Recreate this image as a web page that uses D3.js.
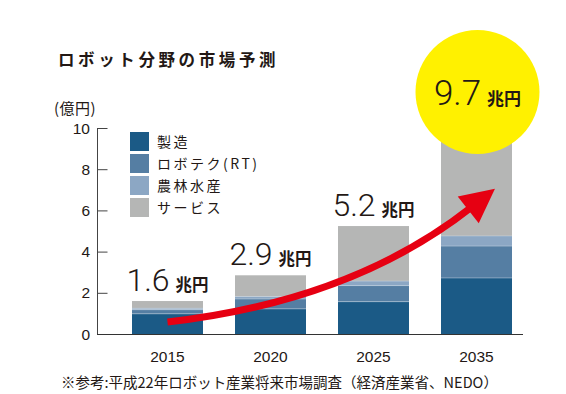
<!DOCTYPE html>
<html>
<head>
<meta charset="utf-8">
<script src="https://cdn.jsdelivr.net/npm/d3@7"></script>
<style>
  body { margin: 0; background: #fff; }
  text { font-family: "Liberation Sans", Arial, "Noto Sans CJK JP", sans-serif; fill: #231815; }
  .jp { font-family: "Noto Sans CJK JP", sans-serif; }
</style>
</head>
<body>
<div id="mainDiv"></div>
<script>
// data (unit: 兆円)
const years = ["2015", "2020", "2025", "2035"];
const seriesNames = ["製造", "ロボテク(RT)", "農林水産", "サービス"];
const seizo   = [0.98, 1.22, 1.57, 2.72];
const robotec = [0.20, 0.48, 0.78, 1.55];
const nourin  = [0.07, 0.12, 0.22, 0.49];
const service = [0.35, 1.03, 2.67, 4.94];
const totals  = ["1.6", "2.9", "5.2", "9.7"];
const yTicks  = [0, 2, 4, 6, 8, 10];
const colors  = ["#1b5a86", "#557ea3", "#8ca7c4", "#b5b6b5"];

const width = 566, height = 394;

let svg = d3.select("#mainDiv").append("svg")
            .attr("width", width)
            .attr("height", height);

// scales
let x = d3.scaleBand().domain(years).range([132, 512])
            .paddingInner(32 / 103).paddingOuter(0);
let y = d3.scaleLinear().domain([0, 10]).range([334, 128]);

// title
svg.append("text")
    .attr("class", "jp")
    .attr("x", 58).attr("y", 66)
    .style("font-size", "16.5px")
    .style("font-weight", 700)
    .style("letter-spacing", "3.6px")
    .text("ロボット分野の市場予測");

svg.append("text")
    .attr("class", "jp")
    .attr("x", 54).attr("y", 114)
    .style("font-size", "15px")
    .style("letter-spacing", "0.5px")
    .text("(億円)");

// stacked bars
let rows = years.map((yr, i) => ({year: yr, s0: seizo[i], s1: robotec[i], s2: nourin[i], s3: service[i]}));
let stack = d3.stack().keys(["s0", "s1", "s2", "s3"]);
let layers = stack(rows);

svg.append("g").selectAll("g")
    .data(layers)
  .enter().append("g")
    .attr("fill", (d, i) => colors[i])
    .selectAll("rect")
    .data(d => d)
  .enter().append("rect")
    .attr("x", d => x(d.data.year))
    .attr("width", x.bandwidth())
    .attr("y", d => y(d[1]))
    .attr("height", d => y(d[0]) - y(d[1]));

// thin light lines between segments
svg.append("g").selectAll("g")
    .data(layers.slice(0, 3))
  .enter().append("g")
    .selectAll("line")
    .data(d => d)
  .enter().append("line")
    .attr("x1", d => x(d.data.year))
    .attr("x2", d => x(d.data.year) + x.bandwidth())
    .attr("y1", d => y(d[1]))
    .attr("y2", d => y(d[1]))
    .attr("stroke", "#c9d6e3")
    .attr("stroke-opacity", 0.6)
    .attr("stroke-width", 0.8);

// y axis
let yAxis = d3.axisRight(y).tickValues(yTicks).tickSize(10).tickFormat("");
let gy = svg.append("g").attr("transform", "translate(97.5,0)").call(yAxis);
gy.select(".domain").remove();
gy.selectAll(".tick line").attr("stroke", "#444").attr("stroke-width", 1);
gy.append("line")
    .attr("x1", 0).attr("x2", 0)
    .attr("y1", y(10)).attr("y2", y(0))
    .attr("stroke", "#444");

svg.append("g").selectAll("text")
    .data(yTicks)
  .enter().append("text")
    .attr("x", 90)
    .attr("y", d => y(d) + 5.5)
    .attr("text-anchor", "end")
    .style("font-size", "15.5px")
    .text(d => d);

// x axis
svg.append("line")
    .attr("x1", 97).attr("x2", 523)
    .attr("y1", y(0) + 0.5).attr("y2", y(0) + 0.5)
    .attr("stroke", "#333").attr("stroke-width", 1.2);

svg.append("g").selectAll("text")
    .data(years)
  .enter().append("text")
    .attr("x", d => x(d) + x.bandwidth() / 2)
    .attr("y", 362)
    .attr("text-anchor", "middle")
    .style("font-size", "15.5px")
    .text(d => d);

// legend
let legend = svg.append("g").selectAll("g")
    .data(seriesNames)
  .enter().append("g")
    .attr("transform", (d, i) => "translate(130," + (132 + i * 22) + ")");

legend.append("rect")
    .attr("width", 19).attr("height", 19)
    .attr("fill", (d, i) => colors[i]);

legend.append("text")
    .attr("class", "jp")
    .attr("x", 27).attr("y", 15)
    .style("font-size", "14px")
    .style("letter-spacing", "2.5px")
    .text(d => d);

// total labels (first three)
let lab = svg.append("g").selectAll("text")
    .data(years.slice(0, 3))
  .enter().append("text")
    .attr("x", d => x(d) + x.bandwidth() / 2)
    .attr("y", (d, i) => y(seizo[i] + robotec[i] + nourin[i] + service[i]) - 10)
    .attr("text-anchor", "middle");
lab.append("tspan")
    .style("font-family", "Roboto, sans-serif")
    .style("font-weight", 300)
    .style("font-size", "32px")
    .text((d, i) => totals[i]);
lab.append("tspan")
    .attr("dx", 6)
    .style("font-family", "'Noto Sans CJK JP', sans-serif")
    .style("font-weight", 700)
    .style("font-size", "16.5px")
    .text("兆円");

// red arrow
let x0 = x("2015") + x.bandwidth() / 2;
let x3 = x("2035") + x.bandwidth() * 0.76;
let start = [x0, y(0.58)];
let tip = [x3, y(7.05)];
let ctrl = [x("2025") + x.bandwidth() * 0.2, y(1.6)];
// direction at tip
let dx = tip[0] - ctrl[0], dy = tip[1] - ctrl[1];
let len = Math.sqrt(dx * dx + dy * dy);
let ux = dx / len, uy = dy / len;
let headLen = 34, headW = 17;
let base = [tip[0] - ux * headLen, tip[1] - uy * headLen];
let shaftEnd = [tip[0] - ux * (headLen - 4), tip[1] - uy * (headLen - 4)];

svg.append("path")
    .attr("d", "M" + start[0] + "," + start[1] + "Q" + ctrl[0] + "," + ctrl[1] + " " + shaftEnd[0] + "," + shaftEnd[1])
    .attr("fill", "none")
    .attr("stroke", "#e60012")
    .attr("stroke-width", 7);

svg.append("path")
    .attr("d", "M" + tip[0] + "," + tip[1]
        + "L" + (base[0] - uy * headW) + "," + (base[1] + ux * headW)
        + "L" + (base[0] + uy * headW) + "," + (base[1] - ux * headW) + "Z")
    .attr("fill", "#e60012");

// yellow circle with 2035 total
let cx = x("2035") + x.bandwidth() / 2 + 1;
svg.append("circle")
    .attr("cx", cx).attr("cy", 92).attr("r", 62)
    .attr("fill", "#fff100");

let big = svg.append("text")
    .attr("x", cx).attr("y", 105)
    .attr("text-anchor", "middle");
big.append("tspan")
    .style("font-family", "Roboto, sans-serif")
    .style("font-weight", 300)
    .style("font-size", "35px")
    .text(totals[3]);
big.append("tspan")
    .attr("dx", 6)
    .style("font-family", "'Noto Sans CJK JP', sans-serif")
    .style("font-weight", 700)
    .style("font-size", "17px")
    .text("兆円");

// footnote
svg.append("text")
    .attr("class", "jp")
    .attr("x", 61).attr("y", 388)
    .style("font-size", "14.5px")
    .text("※参考:平成22年ロボット産業将来市場調査（経済産業省、NEDO）");
</script>
</body>
</html>
